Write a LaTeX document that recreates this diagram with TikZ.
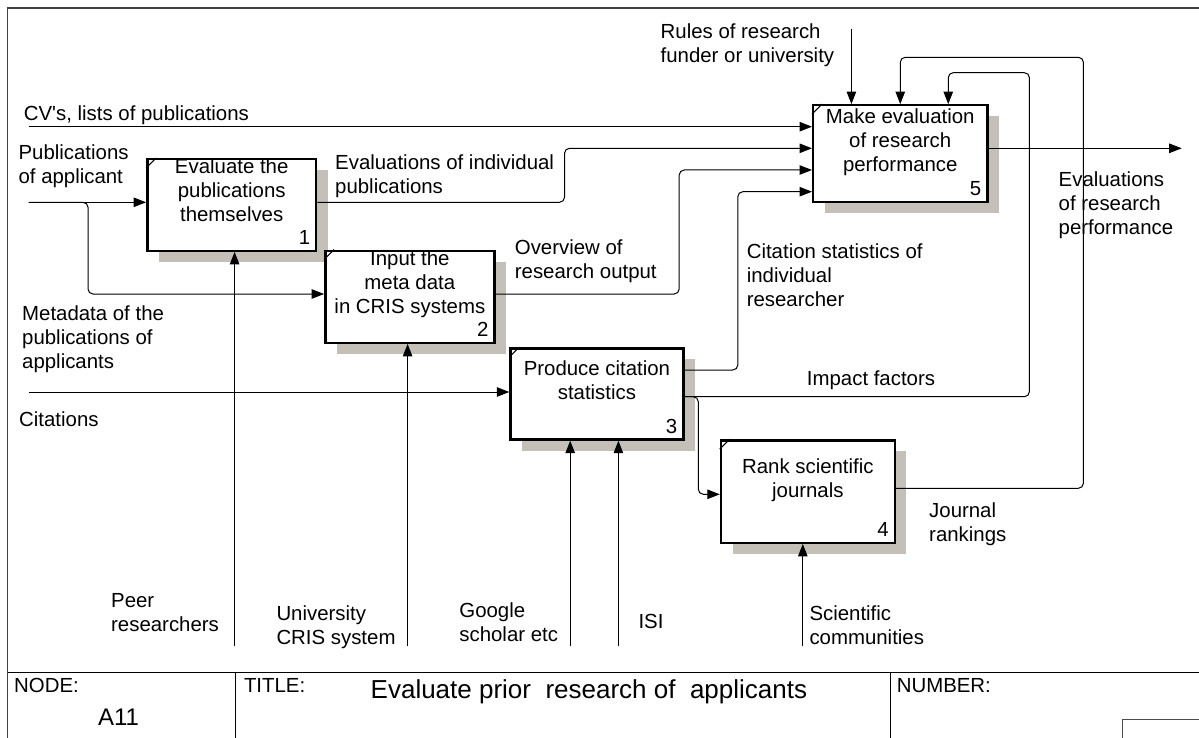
\documentclass[tikz,border=0pt]{standalone}
\usepackage{fontspec}
\setmainfont{Liberation Sans}
\usetikzlibrary{arrows.meta,shadows}
\definecolor{shadowgray}{RGB}{196,192,184}
\newcommand*{\xIn}{28.7}
\newcommand*{\yMech}{646}

\begin{document}
\begin{tikzpicture}[x=1pt,y=-1pt,font=\fontsize{20.4}{24}\selectfont,
  proc/.style={rectangle,draw=black,line width=2.4pt,fill=white,inner sep=0pt,
    drop shadow={shadow xshift=11.5pt,shadow yshift=-11pt,fill=shadowgray,opacity=1}},
  boxtxt/.style={anchor=north,align=center,inner sep=0pt},
  num/.style={anchor=base east,inner sep=0pt},
  lbl/.style={anchor=north west,align=left,inner sep=0pt},
  flow/.style={line width=1pt,rounded corners=5pt,-{Triangle[length=12.5pt,width=9.5pt]}},
  frame/.style={line width=1.5pt,draw=black!75}]
\useasboundingbox (0,0) rectangle (1199,738);

% frame and title block
\draw[frame] (7.6,738) |- (1199,8);
\draw[line width=1.5pt] (7.6,672.7) -- (1199,672.7);
\draw[line width=1pt] (235.7,672.7) -- (235.7,738);
\draw[line width=1pt] (890.9,672.7) -- (890.9,738);
\draw[line width=1pt,draw=black!70] (1122.4,738) |- (1199,719.3);
\node[lbl] (node-l) at (14,677.8) {NODE:};
\node[inner sep=0pt,anchor=north,font=\fontsize{24}{28}\selectfont] (node-v) at (118.6,708.6) {A11};
\node[lbl] (title-l) at (243.8,677.8) {TITLE:};
\node[lbl,font=\fontsize{26}{30}\selectfont] (title-v) at (370.5,679) {Evaluate prior~ research of~ applicants};
\node[lbl] (number-l) at (896.6,677.8) {NUMBER:};

% activities
\node[proc,minimum width=168.8pt,minimum height=91.4pt] (eval) at (231.7,205) {};
\node[proc,minimum width=169.1pt,minimum height=92pt] (meta) at (409.85,296.7) {};
\node[proc,minimum width=172.8pt,minimum height=91.2pt] (cite) at (596.9,393.9) {};
\node[proc,minimum width=173.7pt,minimum height=102.4pt] (rank) at (807.85,491.5) {};
\node[proc,minimum width=174.1pt,minimum height=97pt] (perf) at (900.25,153.8) {};
\foreach \b in {eval,meta,cite,rank,perf}
  \draw[line width=1pt] ([yshift=-10pt]\b.north west) -- ([xshift=10pt]\b.north west);

\node[boxtxt] (eval-t) at (eval.north) {Evaluate the\\publications\\themselves};
\node[boxtxt,yshift=-1pt] (meta-t) at (meta.north) {Input the\\meta data\\in CRIS systems};
\node[boxtxt,yshift=-13.7pt] (cite-t) at (cite.north) {Produce citation\\statistics};
\node[boxtxt,yshift=-19pt] (rank-t) at (rank.north) {Rank scientific\\journals};
\node[boxtxt,yshift=-4pt] (perf-t) at (perf.north) {Make evaluation\\of research\\performance};
\node[num,xshift=-7pt,yshift=7.5pt] (eval-n) at (eval.south east) {1};
\node[num,xshift=-7pt,yshift=7.5pt] (meta-n) at (meta.south east) {2};
\node[num,xshift=-7pt,yshift=7.5pt] (cite-n) at (cite.south east) {3};
\node[num,xshift=-7pt,yshift=7.5pt] (rank-n) at (rank.south east) {4};
\node[num,xshift=-7pt,yshift=7.5pt] (perf-n) at (perf.south east) {5};

% free ends
\coordinate (cvin) at (\xIn,126.7);
\coordinate (pubin) at (\xIn,202.3);
\coordinate (citein) at (\xIn,392);
\coordinate (rules) at (851.4,29);
\coordinate (perfout) at (1181.7,148.3);
\coordinate (peer) at (234.6,\yMech);
\coordinate (cris) at (407.6,\yMech);
\coordinate (google) at (570.2,\yMech);
\coordinate (isi) at (618.4,\yMech);
\coordinate (scicom) at (802.8,\yMech);

% inputs and controls
\draw[flow] (cvin) -- (cvin -| perf.west);
\draw[flow] (pubin) -- (pubin -| eval.west);
\draw[flow] (pubin) -| (88,294) -- ([yshift=2.7pt]meta.west);
\draw[flow] (citein) -- (citein -| cite.west);
\draw[flow] (rules) -- (rules |- perf.north);

% outputs
\draw[flow] ([yshift=2.7pt]eval.east) -| (564.5,148.3) -- ([yshift=5.5pt]perf.west);
\draw[flow] ([yshift=2.7pt]meta.east) -| (679.2,170) -- ([yshift=-16.2pt]perf.west);
\draw[flow] ([yshift=23.9pt]cite.east) -| (737.8,191.7) -- ([yshift=-37.9pt]perf.west);
\draw[flow] ([yshift=-2.8pt]cite.east) -| (1029.4,72.7) -| ([xshift=48pt]perf.north);
\draw[flow] ([yshift=-2.8pt]cite.east) -| (698.3,494.3) -- ([yshift=-2.8pt]rank.west);
\draw[flow] ([yshift=3.2pt]rank.east) -| (1083.4,57.3) -| (perf.north);
\draw[flow] ([yshift=5.5pt]perf.east) -- (perfout);

% mechanisms
\draw[flow] (peer) -- (peer |- eval.south);
\draw[flow] (cris) -- (cris |- meta.south);
\draw[flow] (google) -- (google |- cite.south);
\draw[flow] (isi) -- (isi |- cite.south);
\draw[flow] (scicom) -- (scicom |- rank.south);

% arrow labels
\node[lbl] (cv-l) at (23.7,105.8) {CV\textquotesingle s, lists of publications};
\node[lbl] (pub-l) at (18.4,144.8) {Publications\\of applicant};
\node[lbl] (evind-l) at (335,154.5) {Evaluations of individual\\publications};
\node[lbl] (over-l) at (514.7,239.5) {Overview of\\research output};
\node[lbl] (meta-l) at (22,305.8) {Metadata of the\\publications of\\applicants};
\node[lbl] (cit-l) at (19,411.1) {Citations};
\node[lbl] (rules-l) at (660.5,23.5) {Rules of research\\funder or university};
\node[lbl] (evres-l) at (1058.5,171.1) {Evaluations\\of research\\performance};
\node[lbl] (cstat-l) at (746.6,243.5) {Citation statistics of\\individual\\researcher};
\node[inner sep=0pt,anchor=north] (imp-l) at (871,370.1) {Impact factors};
\node[lbl] (jrank-l) at (929,502.1) {Journal\\rankings};
\node[lbl] (peer-l) at (111,592.8) {Peer\\researchers};
\node[lbl] (cris-l) at (276.3,605.5) {University\\CRIS system};
\node[lbl] (google-l) at (459.2,602.1) {Google\\scholar etc};
\node[lbl] (isi-l) at (638.3,614.5) {ISI};
\node[lbl] (scicom-l) at (809.3,605.1) {Scientific\\communities};
\end{tikzpicture}
\end{document}
